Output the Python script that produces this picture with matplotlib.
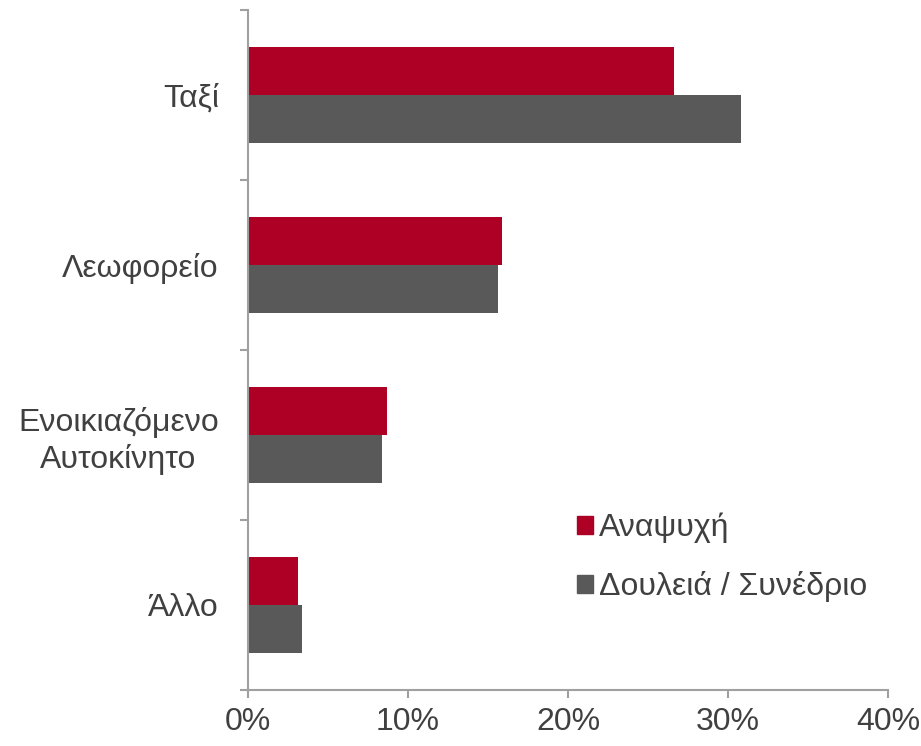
import numpy as np
import matplotlib
matplotlib.use('Agg')
from matplotlib import pyplot as plt
from matplotlib.patches import Patch

plt.rcParams['font.family'] = ['Liberation Sans', 'DejaVu Sans']

categories = ['Ταξί', 'Λεωφορείο', 'Ενοικιαζόμενο\nΑυτοκίνητο', 'Άλλο']
leisure = [26.6, 15.9, 8.7, 3.1]
business = [30.8, 15.6, 8.4, 3.4]
series_names = ['Αναψυχή', 'Δουλειά / Συνέδριο']

red = '#AE0025'
grey = '#595959'
text_col = '#404040'
axis_col = '#A0A0A0'

fig = plt.figure(figsize=(9.21, 7.46), dpi=100)
ax = fig.add_axes([248 / 921, 1 - 690 / 746, 640 / 921, 680 / 746])

pos = np.arange(len(categories))
h = 0.283
ax.barh(pos - h / 2, leisure, height=h, color=red, label=series_names[0])
ax.barh(pos + h / 2, business, height=h, color=grey, label=series_names[1])

ax.set_ylim(len(categories) - 0.5, -0.5)
ax.set_xlim(0, 40)
ax.set_xticks([0, 10, 20, 30, 40])
ax.set_xticklabels(['0%', '10%', '20%', '30%', '40%'])
ax.set_yticks(pos)
ax.set_yticklabels(categories, multialignment='center', linespacing=1.25)
ax.set_yticks(np.arange(len(categories) + 1) - 0.5, minor=True)

ax.tick_params(axis='y', which='major', length=0, pad=21, labelsize=23, labelcolor=text_col)
ax.tick_params(axis='y', which='minor', length=6, width=1.5, color=axis_col)
ax.tick_params(axis='x', length=6, width=1.5, color=axis_col, labelsize=23,
               labelcolor=text_col, pad=6)

for s in ['top', 'right']:
    ax.spines[s].set_visible(False)
for s in ['left', 'bottom']:
    ax.spines[s].set_color(axis_col)
    ax.spines[s].set_linewidth(1.5)

handles = [Patch(color=red), Patch(color=grey)]
ax.legend(handles, series_names, loc='upper left', bbox_to_anchor=(0.514, 0.261),
          frameon=False, fontsize=23, handlelength=0.5, handleheight=0.5,
          handletextpad=0.2, labelspacing=0.88, borderpad=0, borderaxespad=0,
          labelcolor=text_col)

fig.savefig('out.png', dpi=100)
